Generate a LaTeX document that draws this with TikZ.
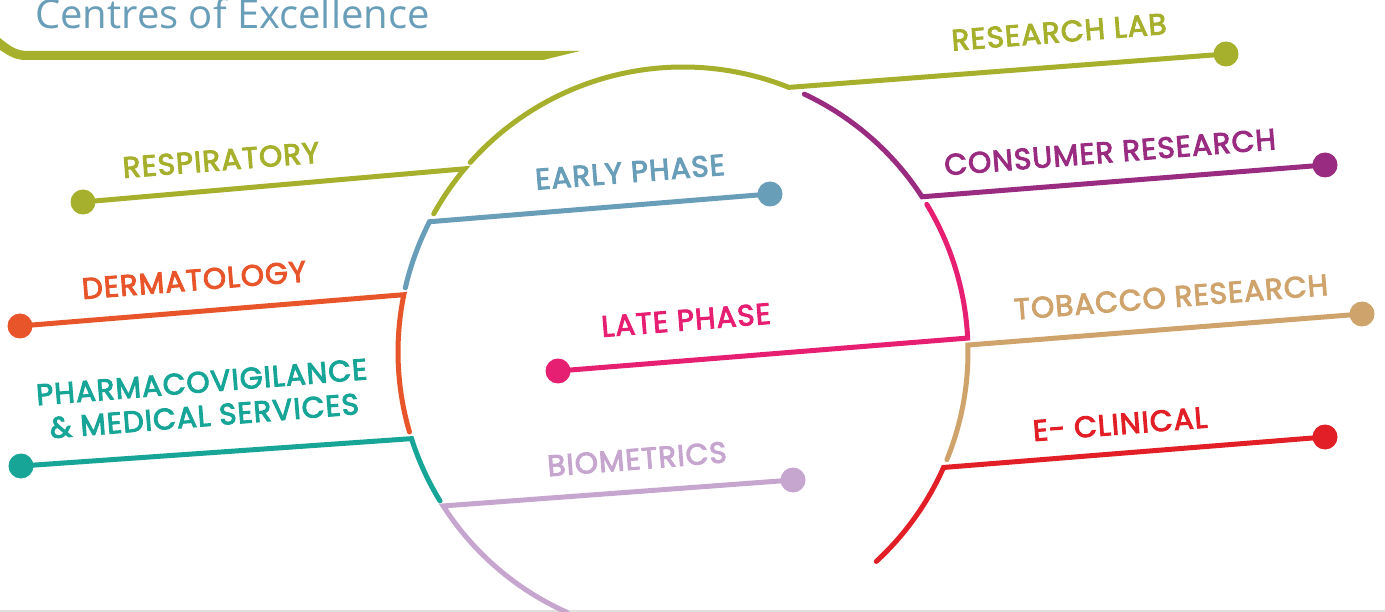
\documentclass[tikz,border=0pt]{standalone}
\usepackage{fontspec}
\usetikzlibrary{calc}
\newfontfamily\lab{Poppins}[FakeBold=3.2, LetterSpace=3.5]
\newfontfamily\ttl{Open Sans}
\definecolor{cOlive}{HTML}{A6B02C}
\definecolor{cBlue}{HTML}{699EB9}
\definecolor{cOrange}{HTML}{E8552A}
\definecolor{cTeal}{HTML}{16A597}
\definecolor{cLilac}{HTML}{C6A6CE}
\definecolor{cPurple}{HTML}{992B80}
\definecolor{cPink}{HTML}{E61F73}
\definecolor{cTan}{HTML}{CFA46C}
\definecolor{cRed}{HTML}{E21E26}
\tikzset{
  branch/.style={draw=#1, line width=5pt, line cap=round, line join=miter},
  dot/.style={circle, fill=#1, minimum size=25pt, inner sep=0pt},
  lbl/.style={text=#1, font=\lab\fontsize{29.5}{34}\selectfont, rotate=4.5, inner sep=0pt, align=center},
}
\begin{document}
\begin{tikzpicture}[x=1pt,y=-1pt]
\useasboundingbox (0,0) rectangle (1385,612);
\clip (0,0) rectangle (1385,612);
\fill[white] (0,0) rectangle (1385,612);
\draw[black!12, line width=1.5pt] (0,611) -- (1385,611);

% title and swoosh
\node[anchor=base west, inner sep=0pt, text=cBlue, font=\ttl\fontsize{40}{44}\selectfont] (title) at (35,29) {Centres of Excellence};
\fill[cOlive] (0,38) .. controls (10,46) and (16,51) .. (28,51) -- (580,51) -- (543,60) -- (26,60) .. controls (14,60) and (8,55) .. (0,50) -- cycle;

\coordinate (C) at (683,352);
% junction points on the circle
\coordinate (respJ) at ($(C)+(140:285pt)$);
\coordinate (earlyJ) at ($(C)+(152.8:285pt)$);
\coordinate (dermJ) at ($(C)+(168.4:285pt)$);
\coordinate (pharJ) at ($(C)+(197.7:285pt)$);
\coordinate (bioJ) at ($(C)+(212.7:285pt)$);
\coordinate (labJ) at ($(C)+(68.2:285pt)$);
\coordinate (consJ) at ($(C)+(33:285pt)$);
\coordinate (lateJ) at ($(C)+(2.8:285pt)$);
\coordinate (tobJ) at ($(C)+(1.4:285pt)$);
\coordinate (eclJ) at ($(C)+(-23.9:285pt)$);

% dots
\node[dot=cOlive] (respD) at (83,202) {};
\node[dot=cBlue] (earlyD) at (770,194) {};
\node[dot=cOrange] (dermD) at (20,326) {};
\node[dot=cTeal] (pharD) at (21,466) {};
\node[dot=cLilac] (bioD) at (793,480) {};
\node[dot=cOlive] (labD) at (1226,54) {};
\node[dot=cPurple] (consD) at (1325,165) {};
\node[dot=cPink] (lateD) at (558,371) {};
\node[dot=cTan] (tobD) at (1362,314) {};
\node[dot=cRed] (eclD) at (1325,437) {};

% branches
\draw[branch=cOlive] (respD.center) -- (respJ) arc[start angle=140, end angle=151, radius=285pt];
\draw[branch=cBlue] (earlyD.center) -- (earlyJ) arc[start angle=152.8, end angle=167, radius=285pt];
\draw[branch=cOrange] (dermD.center) -- (dermJ) arc[start angle=168.4, end angle=196.3, radius=285pt];
\draw[branch=cTeal] (pharD.center) -- (pharJ) arc[start angle=197.7, end angle=211.5, radius=285pt];
\draw[branch=cLilac] (bioD.center) -- (bioJ) arc[start angle=212.7, end angle=246, radius=285pt];
\draw[branch=cOlive] (labD.center) -- (labJ) arc[start angle=68.2, end angle=138.3, radius=285pt];
\draw[branch=cPurple] (consD.center) -- (consJ) arc[start angle=33, end angle=64.8, radius=285pt];
\draw[branch=cPink] (lateD.center) -- (lateJ) arc[start angle=2.8, end angle=31.2, radius=285pt];
\draw[branch=cTan] (tobD.center) -- (tobJ) arc[start angle=1.4, end angle=-22.2, radius=285pt];
\draw[branch=cRed] (eclD.center) -- (eclJ) arc[start angle=-23.9, end angle=-47.3, radius=285pt];

% labels
\node[lbl=cOlive] (respT) at (221,160) {RESPIRATORY};
\node[lbl=cBlue] (earlyT) at (630,172) {EARLY PHASE};
\node[lbl=cOrange] (dermT) at (194,280) {DERMATOLOGY};
\node[lbl=cTeal] (pharT) at (203,399) {PHARMACOVIGILANCE\\\& MEDICAL SERVICES};
\node[lbl=cLilac] (bioT) at (637,459) {BIOMETRICS};
\node[lbl=cOlive] (labT) at (1059,32) {RESEARCH LAB};
\node[lbl=cPurple] (consT) at (1110,152) {CONSUMER RESEARCH};
\node[lbl=cPink] (lateT) at (686,320) {LATE PHASE};
\node[lbl=cTan] (tobT) at (1171,297) {TOBACCO RESEARCH};
\node[lbl=cRed] (eclT) at (1120,424) {E- CLINICAL};
\end{tikzpicture}
\end{document}
